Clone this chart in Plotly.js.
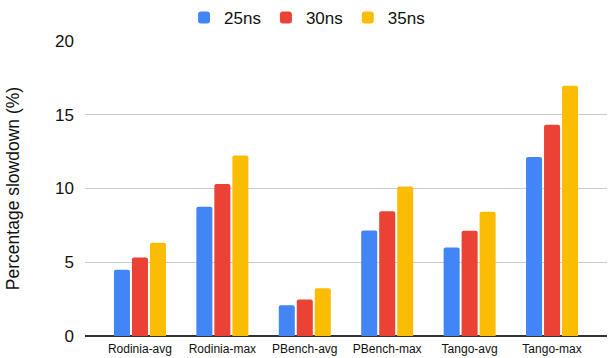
<!DOCTYPE html>
<html>
<head>
<meta charset="utf-8">
<script src="https://cdn.plot.ly/plotly-3.0.1.min.js"></script>
<style>
  html, body { margin: 0; padding: 0; background: #fff; }
  #chart { width: 608px; height: 358px; }
</style>
</head>
<body>
<div id="chart"></div>
<script>
// benchmark groups on the x axis
const categories = ['Rodinia-avg', 'Rodinia-max', 'PBench-avg', 'PBench-max', 'Tango-avg', 'Tango-max'];

// slowdown (%) per latency setting
const values25ns = [4.5, 8.76, 2.09, 7.16, 6.0, 12.14];
const values30ns = [5.32, 10.3, 2.48, 8.45, 7.14, 14.32];
const values35ns = [6.33, 12.23, 3.24, 10.14, 8.42, 16.96];

const seriesNames = ['25ns', '30ns', '35ns'];
const yTicks = [0, 5, 10, 15, 20];

const colors = ['#4285F4', '#EA4335', '#FBBC04'];

const traces = [values25ns, values30ns, values35ns].map((vals, i) => ({
    type: 'bar',
    name: seriesNames[i],
    x: categories,
    y: vals,
    marker: { color: colors[i], cornerradius: 2 },
    hoverinfo: 'none'
}));

const layout = {
    width: 608,
    height: 358,
    margin: { l: 85, r: 1, t: 41, b: 22, pad: 0 },
    paper_bgcolor: '#fff',
    plot_bgcolor: '#fff',
    font: { family: 'Arial, "Liberation Sans", sans-serif', color: '#111' },
    barmode: 'group',
    bargap: 0.345,
    bargroupgap: 0.11,
    showlegend: true,
    legend: {
        orientation: 'h',
        xref: 'container',
        yref: 'container',
        x: 0.505,
        xanchor: 'center',
        y: 1,
        yanchor: 'top',
        font: { size: 17, color: '#111' },
        tracegroupgap: 0
    },
    xaxis: {
        type: 'category',
        range: [-2 / 3, 5 + 2 / 3],
        showgrid: false,
        showline: false,
        zeroline: false,
        ticks: '',
        ticklabelstandoff: 4,
        tickfont: { size: 12, color: '#111' },
        fixedrange: true
    },
    yaxis: {
        range: [0, 20],
        tickvals: yTicks,
        ticktext: yTicks.map(String),
        showgrid: true,
        gridcolor: '#cccccc',
        gridwidth: 1,
        zeroline: true,
        zerolinecolor: '#333333',
        zerolinewidth: 1.5,
        showline: false,
        ticks: '',
        ticklabelstandoff: 10,
        tickfont: { size: 17, color: '#111' },
        title: {
            text: 'Percentage slowdown (%)',
            font: { size: 17.5, color: '#111' },
            standoff: 30
        },
        fixedrange: true
    }
};

Plotly.newPlot('chart', traces, layout, { displayModeBar: false, staticPlot: true });
</script>
</body>
</html>
